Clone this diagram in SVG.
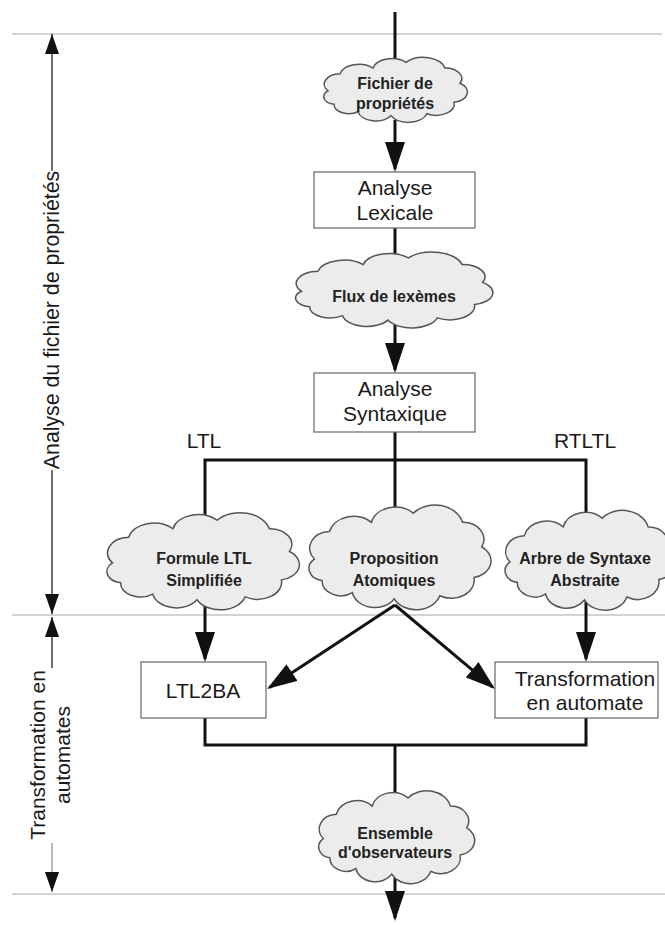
<svg xmlns="http://www.w3.org/2000/svg" width="665" height="925" viewBox="0 0 665 925">
<style>
 .sep{stroke:#c4c4c4;stroke-width:1.5;fill:none}
 .conn{stroke:#111;stroke-width:3;fill:none}
 .ann{stroke:#111;stroke-width:1.2;fill:none}
 .anng{stroke:#8a8a8a;stroke-width:1.2;fill:none}
 .box{fill:#fff;stroke:#666;stroke-width:1.2}
 .bt{font-family:"Liberation Sans",Arial,sans-serif;font-size:21px;fill:#1a1a1a;text-anchor:middle}
 .ct{font-family:"Liberation Sans",Arial,sans-serif;font-size:16px;font-weight:bold;fill:#222;text-anchor:middle}
</style>
<defs>
 <marker id="big" viewBox="0 0 30 20" refX="27" refY="10" markerWidth="30" markerHeight="20" markerUnits="userSpaceOnUse" orient="auto"><path d="M0,0 L30,10 L0,20 z" fill="#111"/></marker>
 <marker id="small" viewBox="0 0 20 14" refX="20" refY="7" markerWidth="20" markerHeight="14" markerUnits="userSpaceOnUse" orient="auto"><path d="M0,0 L20,7 L0,14 z" fill="#111"/></marker>
 <path id="cloudShape" fill="#ececec" stroke="#555" stroke-width="1.5" vector-effect="non-scaling-stroke" d="M-44,2 A11,11 0 0 1 -36,-16 A13,13 0 0 1 -14,-22 A13,13 0 0 1 8,-28 A15,15 0 0 1 34,-22 A11,11 0 0 1 44,-6 A11,11 0 0 1 40,14 A12,12 0 0 1 22,26 A13,13 0 0 1 -2,28 A12,12 0 0 1 -24,24 A10,10 0 0 1 -40,16 A8,8 0 0 1 -44,2 Z"/>
</defs>

<g id="separators">
 <line class="sep" x1="12" y1="34" x2="662" y2="34"/>
 <line class="sep" x1="12" y1="615" x2="665" y2="615"/>
 <line class="sep" x1="12" y1="894" x2="665" y2="894"/>
</g>

<g id="phase-labels">
 <line class="ann" x1="52" y1="171" x2="52" y2="34" marker-end="url(#small)"/>
 <line class="ann" x1="52" y1="470" x2="52" y2="614" marker-end="url(#small)"/>
 <text class="bt" style="font-size:21.3px" transform="translate(59,320) rotate(-90)">Analyse du fichier de propriétés</text>
 <line class="ann" x1="52" y1="668" x2="52" y2="617" marker-end="url(#small)"/>
 <line class="anng" x1="52" y1="843" x2="52" y2="892" marker-end="url(#small)"/>
 <text class="bt" transform="translate(45,755) rotate(-90)">Transformation en</text>
 <text class="bt" transform="translate(70,755) rotate(-90)">automates</text>
</g>

<g id="connectors">
 <line class="conn" x1="395" y1="12" x2="395" y2="62"/>
 <line class="conn" x1="395" y1="120" x2="395" y2="169" marker-end="url(#big)"/>
 <line class="conn" x1="395" y1="228" x2="395" y2="258"/>
 <line class="conn" x1="395" y1="324" x2="395" y2="370" marker-end="url(#big)"/>
 <line class="conn" x1="395" y1="432" x2="395" y2="515"/>
 <polyline class="conn" points="205,520 205,460 586,460 586,520"/>
 <line class="conn" x1="205" y1="600" x2="205" y2="659" marker-end="url(#big)"/>
 <line class="conn" x1="586" y1="600" x2="586" y2="659" marker-end="url(#big)"/>
 <line class="conn" x1="395" y1="605" x2="269.5" y2="687.4" marker-end="url(#big)"/>
 <line class="conn" x1="395" y1="605" x2="492.7" y2="687.1" marker-end="url(#big)"/>
 <polyline class="conn" points="205,718 205,745 586,745 586,718"/>
 <line class="conn" x1="395" y1="745" x2="395" y2="800"/>
 <line class="conn" x1="395" y1="878" x2="395" y2="918" marker-end="url(#big)"/>
 <text class="bt" x="204" y="448">LTL</text>
 <text class="bt" x="585" y="448">RTLTL</text>
</g>

<g id="cloud-fichier">
 <use href="#cloudShape" transform="translate(394,89) scale(1.5,0.95)"/>
 <text class="ct" x="395" y="89">Fichier de</text>
 <text class="ct" x="395" y="109">propriétés</text>
</g>

<g id="box-lexicale">
 <rect class="box" x="314" y="172" width="161" height="56"/>
 <text class="bt" x="395" y="195">Analyse</text>
 <text class="bt" x="395" y="220">Lexicale</text>
</g>

<g id="cloud-flux">
 <use href="#cloudShape" transform="translate(392,289) scale(2.06,1.11)"/>
 <text class="ct" x="394" y="302">Flux de lexèmes</text>
</g>

<g id="box-syntaxique">
 <rect class="box" x="314" y="373" width="161" height="59"/>
 <text class="bt" x="395" y="396">Analyse</text>
 <text class="bt" x="395" y="421">Syntaxique</text>
</g>

<g id="cloud-formule">
 <use href="#cloudShape" transform="translate(201,560) scale(2.01,1.42)"/>
 <text class="ct" x="204" y="564">Formule LTL</text>
 <text class="ct" x="204" y="586">Simplifiée</text>
</g>

<g id="cloud-proposition">
 <use href="#cloudShape" transform="translate(398,556) scale(1.9,1.53)"/>
 <text class="ct" x="394" y="564">Proposition</text>
 <text class="ct" x="394" y="586">Atomiques</text>
</g>

<g id="cloud-arbre">
 <use href="#cloudShape" transform="translate(588,559) scale(1.77,1.46)"/>
 <text class="ct" x="585" y="564">Arbre de Syntaxe</text>
 <text class="ct" x="585" y="586">Abstraite</text>
</g>

<g id="box-ltl2ba">
 <rect class="box" x="141" y="662" width="125" height="56"/>
 <text class="bt" x="203" y="698">LTL2BA</text>
</g>

<g id="box-transformation">
 <rect class="box" x="495" y="662" width="163" height="56"/>
 <text class="bt" x="585" y="686">Transformation</text>
 <text class="bt" x="585" y="710">en automate</text>
</g>

<g id="cloud-ensemble">
 <use href="#cloudShape" transform="translate(395,836) scale(1.63,1.36)"/>
 <text class="ct" x="395" y="839">Ensemble</text>
 <text class="ct" x="395" y="858">d'observateurs</text>
</g>
</svg>
